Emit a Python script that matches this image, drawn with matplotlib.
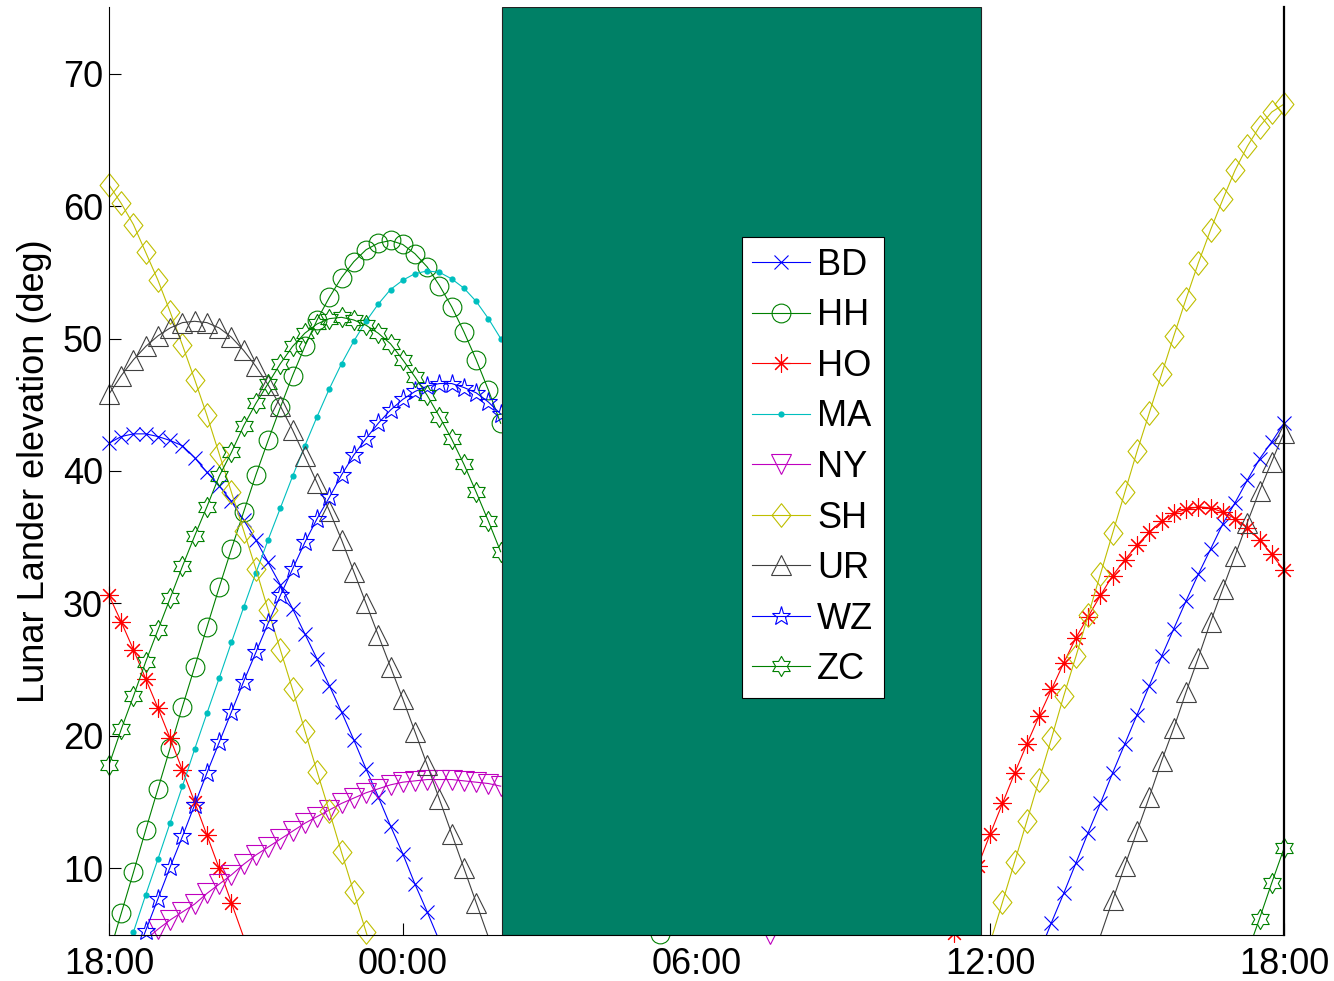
import numpy as np
import matplotlib.pyplot as plt
from matplotlib.lines import Line2D
from matplotlib.path import Path
from matplotlib.patches import Rectangle

plt.rcParams['font.family'] = ['Liberation Sans', 'DejaVu Sans']

nan = np.nan

# time axis in hours after 18:00, samples every 15 min
t_eve = np.arange(33) * 0.25            # 18:00 .. 02:00
t_aft = 17.25 + np.arange(28) * 0.25    # 11:15 .. 18:00

# elevation (deg), evening part
bd_eve = [42.1, 42.6, 42.8, 42.8, 42.6, 42.3, 41.9, 41.0, 39.9, 38.9, 37.7, 36.3, 34.8,
          33.1, 31.4, 29.6, 27.7, 25.8, 23.8, 21.8, 19.7, 17.5, 15.4, 13.2, 11.1, 8.8,
          6.7, 4.5, nan, nan, nan, nan, nan]
hh_eve = [3.5, 6.6, 9.7, 12.9, 16.0, 19.1, 22.2, 25.2, 28.2, 31.2, 34.1, 36.9, 39.7,
          42.3, 44.8, 47.2, 49.4, 51.4, 53.1, 54.6, 55.8, 56.7, 57.2, 57.4, 57.1, 56.4,
          55.4, 54.0, 52.4, 50.5, 48.4, 46.1, 43.6]
ho_eve = [30.6, 28.6, 26.5, 24.3, 22.1, 19.8, 17.4, 15.0, 12.5, 10.0, 7.4, 4.8] + [nan] * 21
ma_eve = [nan, 2.4, 5.2, 8.0, 10.7, 13.45, 16.2, 19.0, 21.7, 24.35, 27.05, 29.7, 32.3,
          34.8, 37.2, 39.6, 41.9, 44.1, 46.2, 48.1, 49.8, 51.3, 52.6, 53.7, 54.4, 54.9,
          55.1, 55.0, 54.5, 53.8, 52.8, 51.5, 50.0]
ny_eve = [nan, nan, nan, 4.6, 5.4, 6.1, 6.7, 7.3, 8.1, 8.8, 9.5, 10.3, 11.0, 11.6, 12.2,
          12.8, 13.4, 13.9, 14.4, 14.9, 15.3, 15.7, 16.0, 16.3, 16.5, 16.6, 16.7, 16.7,
          16.7, 16.6, 16.5, 16.4, 16.2]
sh_eve = [61.6, 60.2, 58.6, 56.5, 54.4, 52.0, 49.5, 46.9, 44.2, 41.3, 38.4, 35.5, 32.6,
          29.5, 26.5, 23.5, 20.4, 17.3, 14.3, 11.2, 8.2, 5.2, 2.2] + [nan] * 10
ur_eve = [45.8, 47.2, 48.4, 49.4, 50.2, 50.8, 51.2, 51.3, 51.2, 50.8, 50.1, 49.1, 47.9,
          46.5, 44.9, 43.1, 41.1, 39.1, 37.0, 34.8, 32.4, 30.0, 27.6, 25.2, 22.8, 20.3,
          17.8, 15.2, 12.6, 10.0, 7.4, 4.8, nan]
wz_eve = [nan, nan, 2.9, 5.3, 7.7, 10.1, 12.4, 14.8, 17.2, 19.5, 21.8, 24.1, 26.3, 28.5,
          30.6, 32.6, 34.6, 36.4, 38.0, 39.7, 41.2, 42.45, 43.6, 44.6, 45.4, 46.0, 46.4,
          46.6, 46.6, 46.3, 45.9, 45.2, 44.3]
zc_eve = [17.8, 20.5, 23.0, 25.6, 28.0, 30.4, 32.8, 35.1, 37.3, 39.6, 41.4, 43.4, 45.1,
          46.6, 48.1, 49.4, 50.4, 51.1, 51.5, 51.6, 51.4, 51.0, 50.4, 49.6, 48.4, 47.1,
          45.7, 44.1, 42.4, 40.5, 38.4, 36.2, 33.9]

# elevation (deg), afternoon part
bd_aft = [nan] * 7 + [3.6, 5.9, 8.1, 10.4, 12.7, 14.9, 17.2, 19.4, 21.6, 23.8, 26.0, 28.1,
                      30.2, 32.2, 34.1, 36.0, 37.6, 39.3, 40.9, 42.2, 43.6]
hh_aft = [nan] * 28
ho_aft = [5.1, 7.7, 10.2, 12.6, 14.9, 17.2, 19.4, 21.5, 23.5, 25.5, 27.4, 29.0, 30.6, 32.1,
          33.3, 34.4, 35.4, 36.2, 36.8, 37.1, 37.3, 37.2, 36.9, 36.4, 35.7, 34.8, 33.7, 32.5]
ma_aft = [nan] * 28
ny_aft = [nan] * 28
sh_aft = [nan] * 3 + [4.4, 7.45, 10.5, 13.6, 16.7, 19.8, 23.0, 26.0, 29.1, 32.2, 35.3, 38.4,
                      41.5, 44.4, 47.3, 50.2, 53.0, 55.7, 58.2, 60.5, 62.7, 64.5, 66.0,
                      67.1, 67.7]
ur_aft = [nan] * 12 + [4.9, 7.6, 10.2, 12.8, 15.4, 18.1, 20.6, 23.3, 25.9, 28.6, 31.1, 33.6,
                       36.1, 38.5, 40.7, 42.9]
wz_aft = [nan] * 28
zc_aft = [nan] * 24 + [3.6, 6.2, 8.9, 11.5]

# points that only peek out below the shaded block
peek_names = ['HH', 'NY']
peek_hours = [11.25, 13.5]
peek_vals = [5.05, 5.05]

names = ['BD', 'HH', 'HO', 'MA', 'NY', 'SH', 'UR', 'WZ', 'ZC']
eve = [bd_eve, hh_eve, ho_eve, ma_eve, ny_eve, sh_eve, ur_eve, wz_eve, zc_eve]
aft = [bd_aft, hh_aft, ho_aft, ma_aft, ny_aft, sh_aft, ur_aft, wz_aft, zc_aft]

# shaded block (hours after 18:00)
block_start = 8.03
block_end = 17.82

hour_ticks = [0, 6, 12, 18, 24]
hour_labels = ['18:00', '00:00', '06:00', '12:00', '18:00']

# matlab style markers
diamond = Path([(0, 1), (0.8, 0), (0, -1), (-0.8, 0), (0, 1)],
               [Path.MOVETO, Path.LINETO, Path.LINETO, Path.LINETO, Path.CLOSEPOLY])
hexagram = Path.unit_regular_star(6, innerCircle=0.577)

colors = [(0, 0, 1), (0, 0.5, 0), (1, 0, 0), (0, 0.75, 0.75), (0.75, 0, 0.75),
          (0.75, 0.75, 0), (0.25, 0.25, 0.25), (0, 0, 1), (0, 0.5, 0)]
markers = ['x', 'o', (8, 2, 0), 'o', 'v', diamond, '^', '*', hexagram]
sizes = [10, 13.5, 13, 4.5, 15, 17, 15, 14, 14.5]
filled = [False, False, False, True, False, False, False, False, False]
lw = 0.8

fig = plt.figure(figsize=(13.34, 9.81), dpi=100)
ax = fig.add_axes([0.08171, 0.0474, 0.88081, 0.94506])

handles = []
for i, name in enumerate(names):
    c = colors[i]
    fc = c if filled[i] else 'none'
    mew = 0 if filled[i] else lw
    for t, v in ((t_eve, eve[i]), (t_aft, aft[i])):
        v = np.array(v, dtype=float)
        if np.all(np.isnan(v)):
            continue
        ax.plot(t, v, '-', color=c, lw=lw, zorder=2)
        ok = (v >= 5) & (v <= 75)
        ax.plot(t[ok], v[ok], ls='none', marker=markers[i], ms=sizes[i], mec=c, mfc=fc,
                mew=mew, clip_on=False, zorder=2)
    for pn, ph, pv in zip(peek_names, peek_hours, peek_vals):
        if pn == name:
            ax.plot([ph], [pv], ls='none', marker=markers[i], ms=sizes[i], mec=c, mfc=fc,
                    mew=mew, clip_on=False, zorder=2)
    handles.append(Line2D([], [], color=c, lw=lw, marker=markers[i], ms=sizes[i],
                          mec=c, mfc=fc, mew=mew))

ax.add_patch(Rectangle((block_start, 5), block_end - block_start, 70,
                       facecolor='#008066', edgecolor='#222222', lw=0.8, zorder=3))

ax.set_xlim(0, 24)
ax.set_ylim(5, 75)
ax.set_xticks(hour_ticks)
ax.set_xticklabels(hour_labels)
ax.set_yticks(range(10, 71, 10))
ax.tick_params(direction='in', length=8.4, width=0.8, labelsize=26, colors='black')
ax.tick_params(axis='x', pad=8.8)
ax.tick_params(axis='y', pad=4.3)
ax.spines['top'].set_visible(False)
ax.spines['right'].set_linewidth(1.6)
for s in ('left', 'bottom'):
    ax.spines[s].set_linewidth(0.8)
for s in ax.spines.values():
    s.set_zorder(4)
ax.set_ylabel('Lunar Lander elevation (deg)', fontsize=26, labelpad=8)

leg = ax.legend(handles, names, loc='center',
                bbox_to_anchor=(812.9 / 1334, 1 - 467.5 / 981),
                bbox_transform=fig.transFigure, fontsize=26, numpoints=1,
                fancybox=False, framealpha=1, edgecolor='black', borderpad=0.3,
                labelspacing=0.43, handlelength=1.6, handletextpad=0.2, borderaxespad=0)
leg.get_frame().set_linewidth(0.8)
leg.set_zorder(5)

fig.savefig('out.png', dpi=100)
